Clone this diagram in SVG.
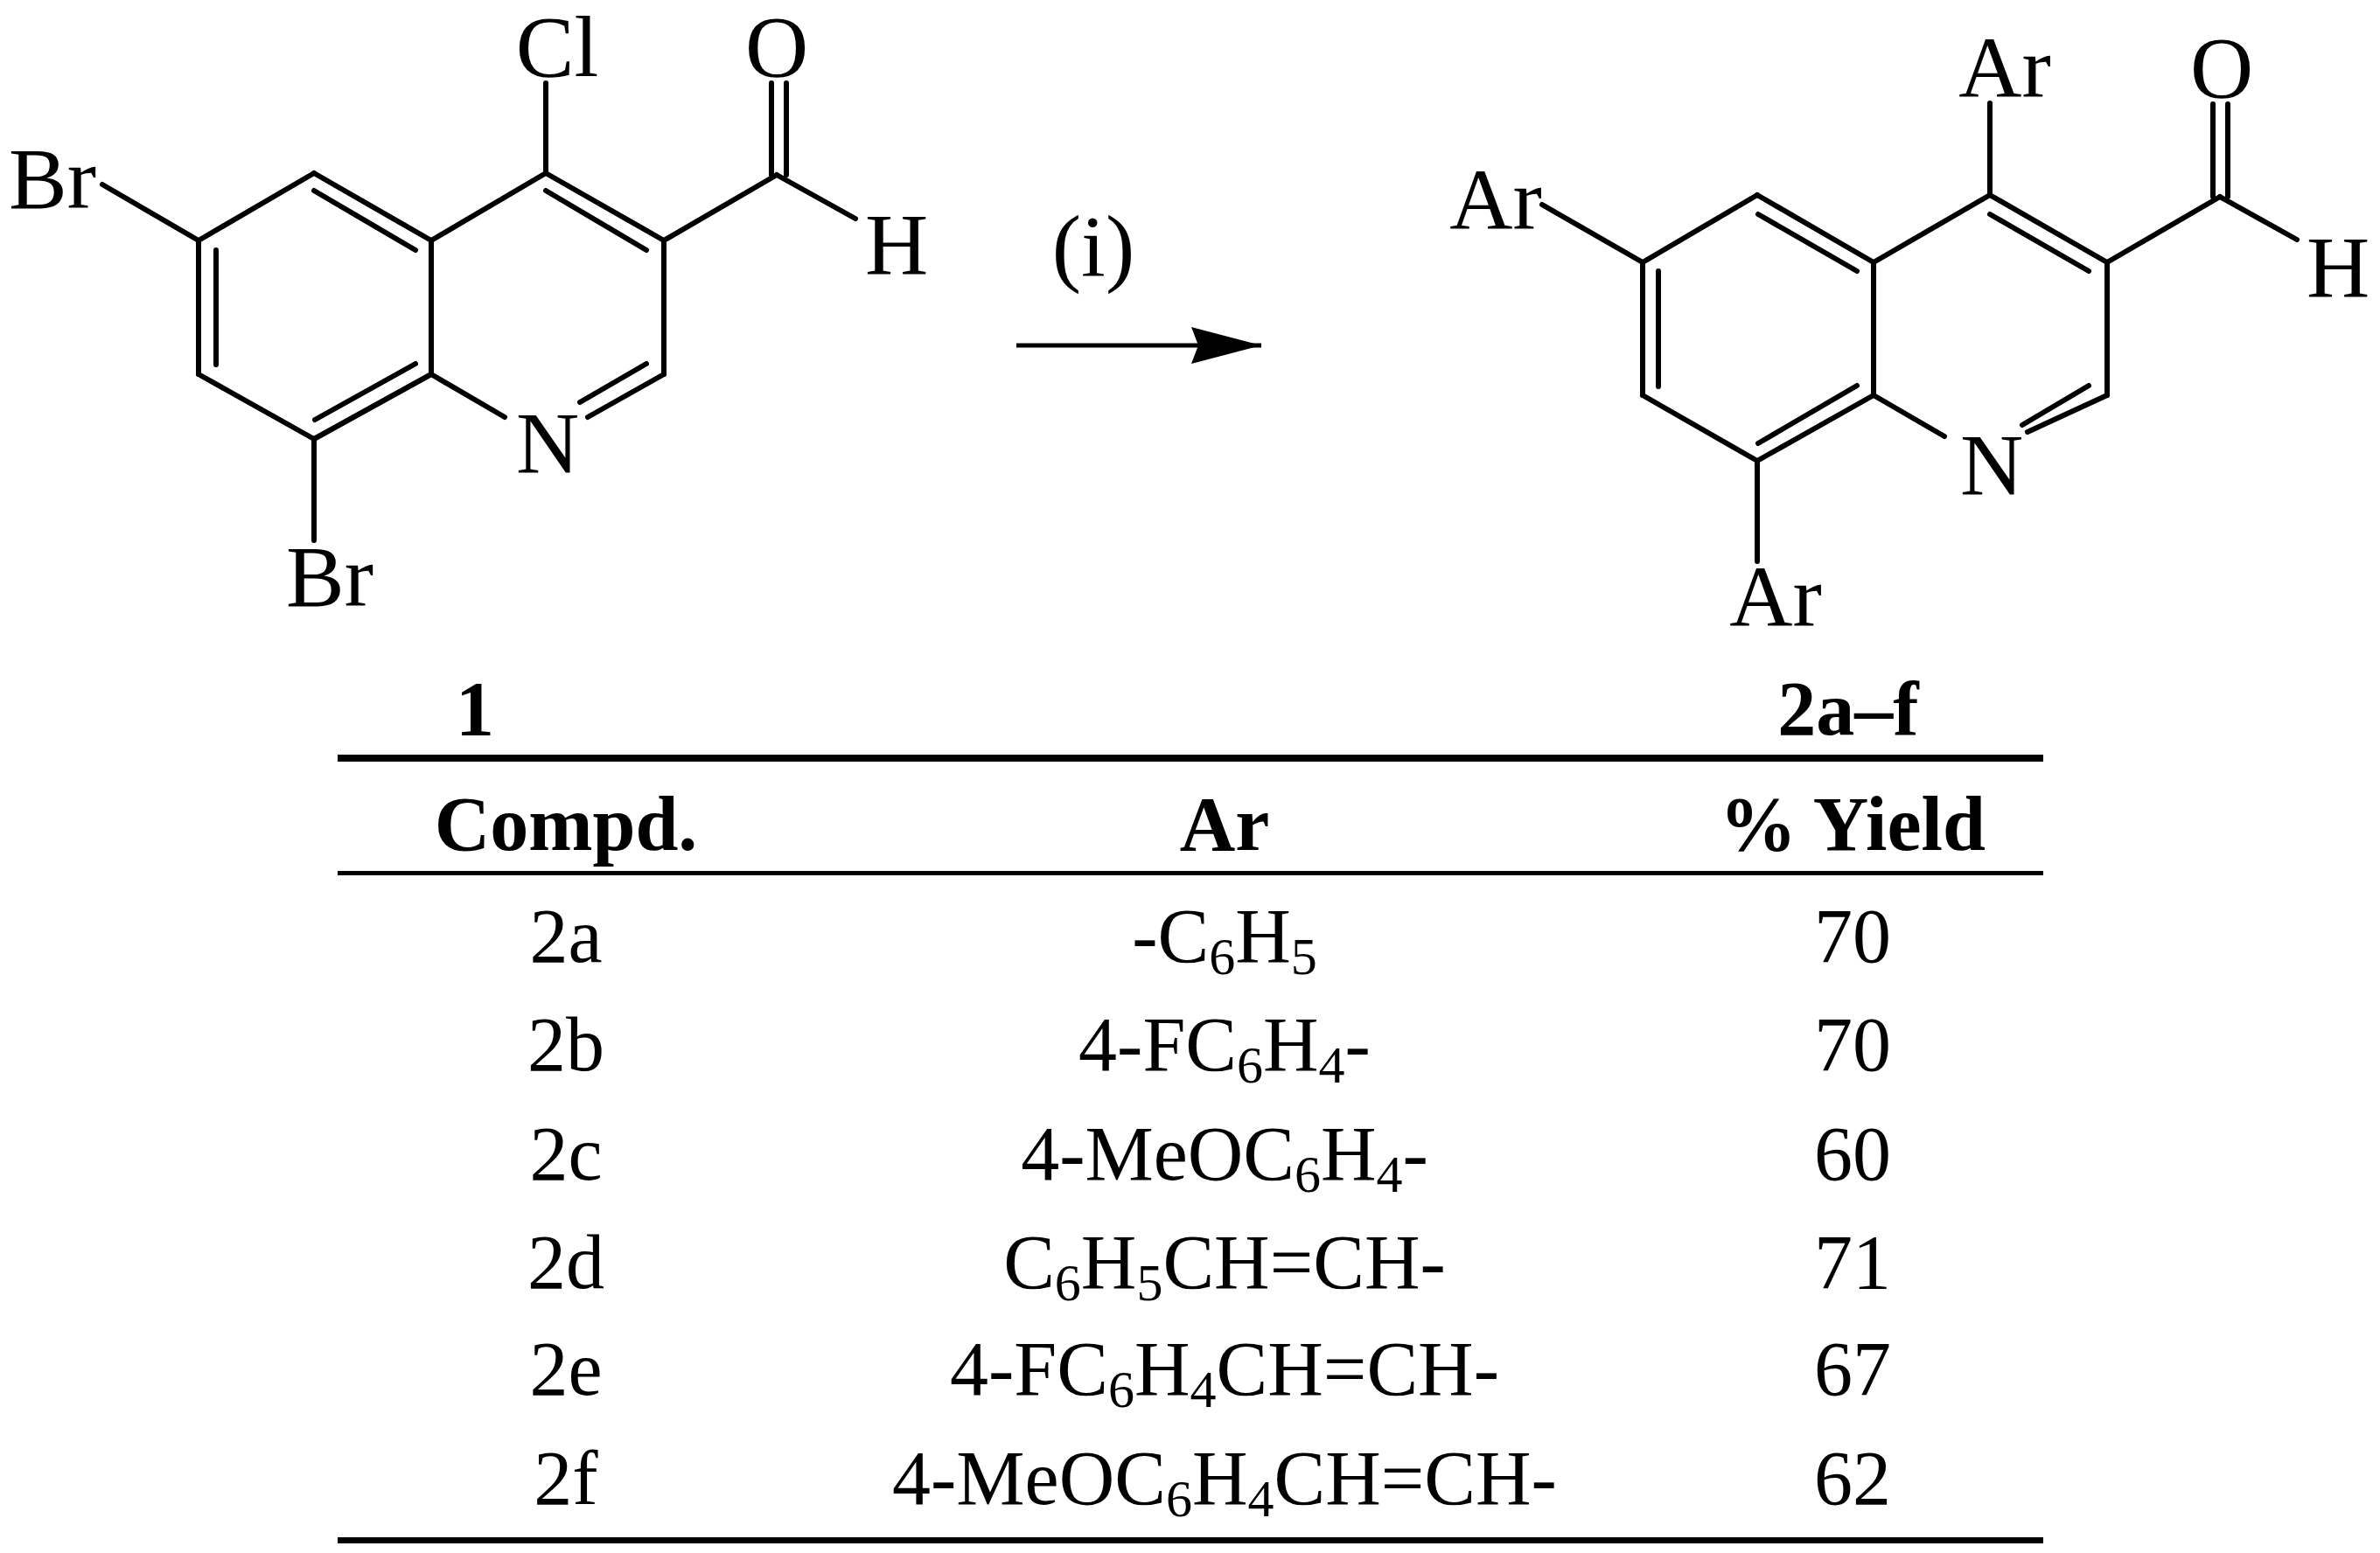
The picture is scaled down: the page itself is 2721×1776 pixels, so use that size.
<svg xmlns="http://www.w3.org/2000/svg" width="2721" height="1776" viewBox="0 0 2721 1776">
<style>
text{font-family:"Liberation Serif","Times New Roman",serif;fill:#000}
.a{font-size:100px;text-anchor:middle}
.t{font-size:88px;text-anchor:middle}
.b{font-weight:bold}
.bd line{stroke:#000;stroke-width:6;stroke-linecap:round}
</style>
<defs><marker id="ah" markerWidth="80" markerHeight="42" refX="80" refY="21" orient="auto" markerUnits="userSpaceOnUse"><path d="M0,0 L80,21 L0,42 L8,21 Z" fill="#000"/></marker></defs>
<rect width="2721" height="1776" fill="#fff"/>
<g id="mol1">
<g class="bd">
<line x1="359" y1="198" x2="227" y2="275"/><line x1="227" y1="275" x2="227" y2="428"/><line x1="227" y1="428" x2="359" y2="502"/>
<line x1="359" y1="502" x2="493" y2="428"/><line x1="493" y1="428" x2="493" y2="275"/><line x1="493" y1="275" x2="359" y2="198"/>
<line x1="493" y1="275" x2="624" y2="198"/><line x1="624" y1="198" x2="759" y2="275"/><line x1="759" y1="275" x2="759" y2="428"/>
<line x1="759" y1="428" x2="672" y2="477"/><line x1="493" y1="428" x2="577" y2="477"/>
<line x1="359" y1="218" x2="475" y2="286"/><line x1="247" y1="286" x2="247" y2="417"/><line x1="360" y1="480" x2="475" y2="416"/>
<line x1="624" y1="218" x2="739" y2="286"/><line x1="739" y1="416" x2="663" y2="460"/>
<line x1="624" y1="198" x2="624" y2="95"/><line x1="759" y1="275" x2="888" y2="200"/><line x1="888" y1="200" x2="978" y2="250"/>
<line x1="882" y1="200" x2="882" y2="95"/><line x1="899" y1="200" x2="899" y2="95"/>
<line x1="227" y1="275" x2="117" y2="211"/><line x1="359" y1="502" x2="359" y2="618"/>
</g>
<text class="a" x="637" y="87">Cl</text><text class="a" x="888" y="87">O</text><text class="a" x="1025" y="313">H</text>
<text class="a" x="60" y="238">Br</text><text class="a" x="377" y="693">Br</text><text class="a" x="626" y="540">N</text>
</g>
<g id="arrow">
<line x1="1162" y1="395" x2="1442" y2="395" stroke="#000" stroke-width="5" marker-end="url(#ah)"/>
<text class="a" x="1250" y="315">(i)</text>
</g>
<g id="mol2">
<g class="bd">
<line x1="2009" y1="223" x2="1878" y2="300"/><line x1="1878" y1="300" x2="1878" y2="452"/><line x1="1878" y1="452" x2="2009" y2="527"/>
<line x1="2009" y1="527" x2="2142" y2="452"/><line x1="2142" y1="452" x2="2142" y2="300"/><line x1="2142" y1="300" x2="2009" y2="223"/>
<line x1="2142" y1="300" x2="2275" y2="223"/><line x1="2275" y1="223" x2="2409" y2="300"/><line x1="2409" y1="300" x2="2409" y2="452"/>
<line x1="2409" y1="452" x2="2318" y2="494"/><line x1="2142" y1="452" x2="2223" y2="499"/>
<line x1="2010" y1="245" x2="2123" y2="310"/><line x1="1896" y1="310" x2="1896" y2="442"/><line x1="2010" y1="507" x2="2123" y2="441"/>
<line x1="2275" y1="245" x2="2388" y2="310"/><line x1="2388" y1="441" x2="2312" y2="486"/>
<line x1="2275" y1="223" x2="2275" y2="118"/><line x1="2409" y1="300" x2="2538" y2="225"/><line x1="2538" y1="225" x2="2626" y2="274"/>
<line x1="2530" y1="225" x2="2530" y2="119"/><line x1="2547" y1="225" x2="2547" y2="119"/>
<line x1="1878" y1="300" x2="1763" y2="234"/><line x1="2009" y1="527" x2="2009" y2="642"/>
</g>
<text class="a" x="2292" y="111">Ar</text><text class="a" x="2540" y="111">O</text><text class="a" x="2673" y="339">H</text>
<text class="a" x="1710" y="262">Ar</text><text class="a" x="2030" y="716">Ar</text><text class="a" x="2277" y="565">N</text>
</g>
<g id="table">
<text class="t b" x="543" y="840">1</text><text class="t b" x="2113" y="840">2a–f</text>
<rect x="386" y="863" width="1950" height="8"/>
<text class="t b" x="647" y="972">Compd.</text><text class="t b" x="1400" y="972">Ar</text><text class="t b" x="2118" y="972">% Yield</text>
<rect x="386" y="996" width="1950" height="5"/>
<g class="t">
<text class="t" x="647" y="1100">2a</text><text class="t" x="1400" y="1100">-C<tspan font-size="60" dy="14">6</tspan><tspan dy="-14">H</tspan><tspan font-size="60" dy="14">5</tspan></text><text class="t" x="2118" y="1100">70</text>
<text class="t" x="647" y="1224">2b</text><text class="t" x="1400" y="1224">4-FC<tspan font-size="60" dy="14">6</tspan><tspan dy="-14">H</tspan><tspan font-size="60" dy="14">4</tspan><tspan dy="-14">-</tspan></text><text class="t" x="2118" y="1224">70</text>
<text class="t" x="647" y="1349">2c</text><text class="t" x="1400" y="1349">4-MeOC<tspan font-size="60" dy="14">6</tspan><tspan dy="-14">H</tspan><tspan font-size="60" dy="14">4</tspan><tspan dy="-14">-</tspan></text><text class="t" x="2118" y="1349">60</text>
<text class="t" x="647" y="1473">2d</text><text class="t" x="1400" y="1473">C<tspan font-size="60" dy="14">6</tspan><tspan dy="-14">H</tspan><tspan font-size="60" dy="14">5</tspan><tspan dy="-14">CH=CH-</tspan></text><text class="t" x="2118" y="1473">71</text>
<text class="t" x="647" y="1595">2e</text><text class="t" x="1400" y="1595">4-FC<tspan font-size="60" dy="14">6</tspan><tspan dy="-14">H</tspan><tspan font-size="60" dy="14">4</tspan><tspan dy="-14">CH=CH-</tspan></text><text class="t" x="2118" y="1595">67</text>
<text class="t" x="647" y="1720">2f</text><text class="t" x="1400" y="1720">4-MeOC<tspan font-size="60" dy="14">6</tspan><tspan dy="-14">H</tspan><tspan font-size="60" dy="14">4</tspan><tspan dy="-14">CH=CH-</tspan></text><text class="t" x="2118" y="1720">62</text>
</g>
<rect x="386" y="1758" width="1950" height="7"/>
</g>
</svg>
